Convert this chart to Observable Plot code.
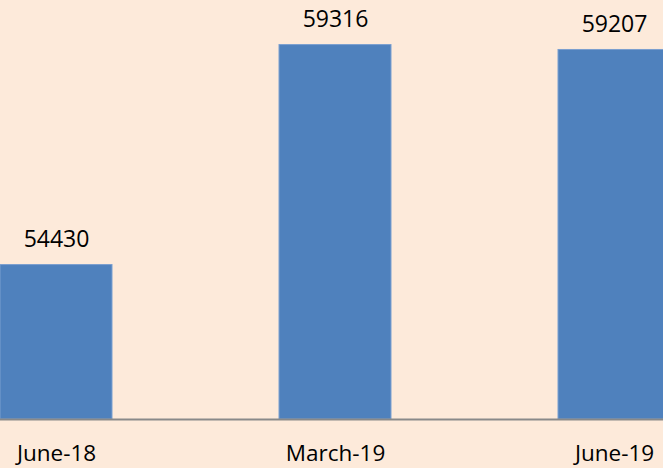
<!DOCTYPE html>
<html>
<head>
<meta charset="utf-8">
<script src="https://cdn.jsdelivr.net/npm/d3@7"></script>
<script src="https://cdn.jsdelivr.net/npm/@observablehq/plot@0.6"></script>
<style>
  html, body { margin: 0; padding: 0; background: #FDEADA; }
  #chart svg { display: block; }
</style>
</head>
<body>
<div id="chart"></div>
<script>
const categories = ["June-18", "March-19", "June-19"];
const values = [54430, 59316, 59207];
const baseValue = 51000;

const data = categories.map((c, i) => ({category: c, value: values[i]}));

const chart = Plot.plot({
  width: 663,
  height: 468,
  marginTop: 0,
  marginBottom: 49,
  marginLeft: 0,
  marginRight: 0,
  style: {background: "#FDEADA", fontFamily: "'Open Sans', sans-serif", fontSize: "23px", color: "#000"},
  x: {domain: categories, range: [-83.7, 753.3], paddingInner: 0.6, paddingOuter: 0.3, align: 0.5, axis: null},
  y: {domain: [baseValue, baseValue + 419 * 22.21], axis: null},
  marks: [
    Plot.barY(data, {x: "category", y1: () => baseValue, y2: "value", fill: "#4F81BD", stroke: "#7A9FD0", strokeWidth: 1}),
    Plot.ruleY([baseValue], {stroke: "#898989", strokeWidth: 2}),
    Plot.text(data, {x: "category", y: "value", text: d => String(d.value), lineAnchor: "bottom", dy: -18, fill: "#000", fontSize: 23}),
    Plot.axisX({domain: categories, tickSize: 0, tickPadding: 26, fontSize: 22.5, fill: "#000", label: null})
  ]
});
document.getElementById("chart").appendChild(chart);
</script>
</body>
</html>
